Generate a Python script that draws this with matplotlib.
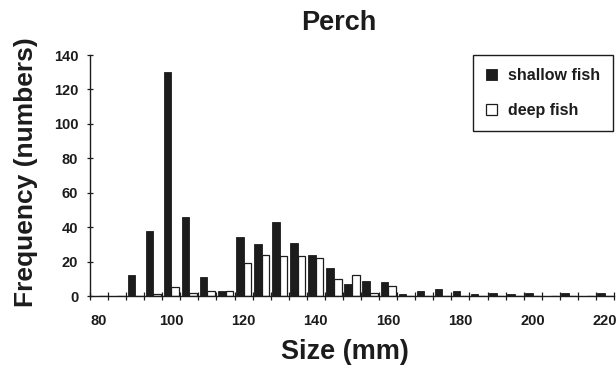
import numpy as np
import matplotlib
matplotlib.use('Agg')
import matplotlib.pyplot as plt

plt.rcParams['font.family'] = ['Liberation Sans', 'DejaVu Sans']
plt.rcParams['font.weight'] = 'bold'

# size classes (mm), 5 mm bins
sizes = list(range(80, 225, 5))
shallow = [0, 0, 12, 38, 130, 46, 11, 3, 34, 30, 43, 31, 24, 16, 7, 9, 8, 1,
           3, 4, 3, 1, 2, 1, 2, 0, 2, 0, 2]
deep = [0, 0, 0, 1, 5, 2, 3, 3, 19, 24, 23, 23, 22, 10, 12, 2, 6, 0,
        0, 0, 0, 0, 0, 0, 0, 0, 0, 0, 0]
label_sizes = [80, 100, 120, 140, 160, 180, 200, 220]
y_ticks = [0, 20, 40, 60, 80, 100, 120, 140]

fig = plt.figure(figsize=(6.16, 3.71), dpi=100)
ax = fig.add_axes([90 / 616, 1 - 296 / 371, 524 / 616, 241 / 371])

x = np.arange(len(sizes))
w = 0.42
ax.bar(x - w / 2, shallow, width=w, color='#1c1c1c', edgecolor='#1c1c1c',
       linewidth=0.6, label='shallow fish', zorder=2)
ax.bar(x + w / 2, deep, width=w, color='white', edgecolor='#1c1c1c',
       linewidth=0.9, label='deep fish', zorder=2)

ax.set_xlim(-0.5, len(sizes) - 0.5)
ax.set_ylim(0, 140)

for s in ['top', 'right']:
    ax.spines[s].set_visible(False)
for s in ['left', 'bottom']:
    ax.spines[s].set_linewidth(1.0)
    ax.spines[s].set_color('#1c1c1c')

# labels centred on bins, tick marks on bin edges
ax.set_xticks([sizes.index(v) for v in label_sizes])
ax.set_xticklabels([str(v) for v in label_sizes])
ax.set_xticks(np.arange(len(sizes) + 1) - 0.5, minor=True)
ax.tick_params(axis='x', which='major', length=0, pad=13, labelsize=10.5)
ax.tick_params(axis='x', which='minor', direction='inout', length=5.5,
               width=0.9, color='#1c1c1c')

ax.set_yticks(y_ticks)
ax.tick_params(axis='y', direction='inout', length=5, width=0.9,
               color='#1c1c1c', pad=6, labelsize=10.5)

for t in ax.get_xticklabels() + ax.get_yticklabels():
    t.set_fontweight('bold')
    t.set_color('#1c1c1c')

fig.text(339 / 616, 1 - 23 / 371, 'Perch', ha='center', va='center',
         fontsize=19.5, fontweight='bold', color='#1c1c1c')
fig.text(345 / 616, 1 - 352 / 371, 'Size (mm)', ha='center', va='center',
         fontsize=19.5, fontweight='bold', color='#1c1c1c')
fig.text(26 / 616, 1 - 172 / 371, 'Frequency (numbers)', ha='center',
         va='center', rotation=90, fontsize=19, fontweight='bold',
         color='#1c1c1c')

leg = ax.legend(loc='upper right', bbox_to_anchor=(613 / 616, 1 - 55 / 371),
                bbox_transform=fig.transFigure, borderaxespad=0,
                fontsize=11.5, handlelength=0.7, handleheight=0.7,
                handletextpad=0.7, labelspacing=1.25, borderpad=0.8,
                fancybox=False, framealpha=1, edgecolor='#1c1c1c')
leg.get_frame().set_linewidth(1.0)
for t in leg.get_texts():
    t.set_fontweight('bold')
    t.set_color('#1c1c1c')

fig.savefig('out.png', dpi=100)
